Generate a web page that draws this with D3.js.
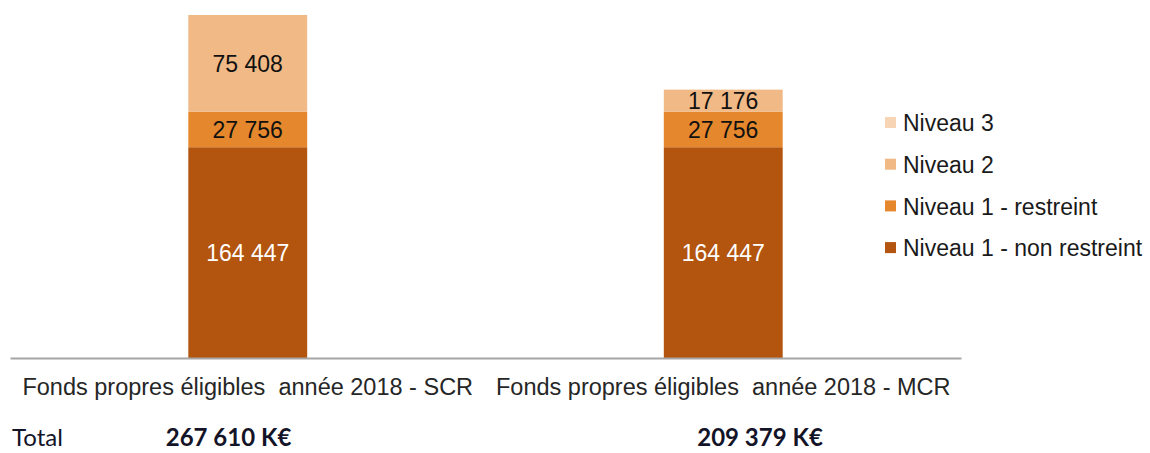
<!DOCTYPE html>
<meta charset="utf-8">
<style>
    body { margin: 0; background: #fff; }
    .cat text { font: 23.5px "Liberation Sans", Arial, sans-serif; fill: #262626; }
    .lbl { font: 23px "Liberation Sans", Arial, sans-serif; }
    .legend text { font: 23px "Liberation Sans", Arial, sans-serif; fill: #1a1a1a; }
    .total { font-family: Lato, sans-serif; font-size: 24px; fill: #141428; }
</style>
<svg class="chart"></svg>
<script src="https://cdn.jsdelivr.net/npm/d3@7"></script>
<script>

    // categories + series (K€)
    var categories = ["Fonds propres éligibles  année 2018 - SCR", "Fonds propres éligibles  année 2018 - MCR"];
    var seriesNames = ["Niveau 1 - non restreint", "Niveau 1 - restreint", "Niveau 2", "Niveau 3"];
    var n1NonRestreint = [164447, 164447];
    var n1Restreint = [27756, 27756];
    var niveau2 = [75408, 17176];
    var niveau3 = [0, 0];
    var totals = [267610, 209379];
    var colors = ["#B3540F", "#E5872C", "#F0B985", "#F6D4B4"];

    var W = 1150, H = 453;

    var svg = d3.select(".chart")
        .attr("width", W)
        .attr("height", H);

    var x = d3.scaleBand()
        .domain(categories)
        .range([10, 961])
        .paddingInner(0)
        .paddingOuter(0);

    var y = d3.scaleLinear()
        .domain([0, 267610])
        .range([358, 15]);

    var barW = x.bandwidth() * 0.25;

    var table = categories.map(function (c, i) {
        return {cat: c, s0: n1NonRestreint[i], s1: n1Restreint[i], s2: niveau2[i], s3: niveau3[i]};
    });

    var stack = d3.stack().keys(["s0", "s1", "s2", "s3"]);
    var layers = stack(table);

    var fmt = d3.formatLocale({decimal: ",", thousands: " ", grouping: [3], currency: ["", " €"]}).format(",.0f");

    var layerG = svg.selectAll("g.layer")
        .data(layers)
        .enter().append("g")
        .attr("class", "layer")
        .attr("fill", function (d, i) { return colors[i]; });

    layerG.selectAll("rect")
        .data(function (d) { return d.filter(function (p) { return p[1] - p[0] > 0; }); })
        .enter().append("rect")
        .attr("x", function (d) { return x(d.data.cat) + x.bandwidth() / 2 - barW / 2; })
        .attr("width", barW)
        .attr("y", function (d) { return y(d[1]); })
        .attr("height", function (d) { return y(d[0]) - y(d[1]); });

    layerG.each(function (layer, li) {
        d3.select(this).selectAll("text")
            .data(layer.filter(function (p) { return p[1] - p[0] > 0; }))
            .enter().append("text")
            .attr("class", "lbl")
            .attr("x", function (d) { return x(d.data.cat) + x.bandwidth() / 2; })
            .attr("y", function (d) { return (y(d[0]) + y(d[1])) / 2; })
            .attr("dy", "0.36em")
            .attr("text-anchor", "middle")
            .attr("fill", li === 0 ? "#ffffff" : "#111111")
            .text(function (d) { return fmt(d[1] - d[0]); });
    });

    // axis
    var xAxis = d3.axisBottom(x).tickSize(0).tickPadding(20);
    var axG = svg.append("g")
        .attr("class", "cat")
        .attr("transform", "translate(0," + y(0) + ")")
        .call(xAxis);
    axG.select(".domain").attr("stroke", "#a6a6a6").attr("stroke-width", 2);
    axG.selectAll("text").attr("dy", "0.71em").style("white-space", "pre");

    // legend (reversed)
    var legend = svg.append("g").attr("class", "legend")
        .attr("transform", "translate(885,123)");
    var items = legend.selectAll("g")
        .data(seriesNames.slice().reverse())
        .enter().append("g")
        .attr("transform", function (d, i) { return "translate(0," + (i * 41.7) + ")"; });
    items.append("rect")
        .attr("x", 0).attr("y", -6).attr("width", 11).attr("height", 11)
        .attr("fill", function (d, i) { return colors[3 - i]; });
    items.append("text")
        .attr("x", 18)
        .attr("dy", "0.36em")
        .text(function (d) { return d; });

    // totals row
    svg.append("text")
        .attr("class", "total")
        .attr("x", 12)
        .attr("y", 446)
        .text("Total");

    svg.selectAll("text.tv")
        .data(totals)
        .enter().append("text")
        .attr("class", "total tv")
        .attr("x", function (d, i) { return x(categories[i]) + x.bandwidth() / 2 - (i === 0 ? 82 : 26); })
        .attr("y", 446)
        .attr("font-weight", "bold")
        .text(function (d) { return fmt(d) + " K€"; });

</script>
